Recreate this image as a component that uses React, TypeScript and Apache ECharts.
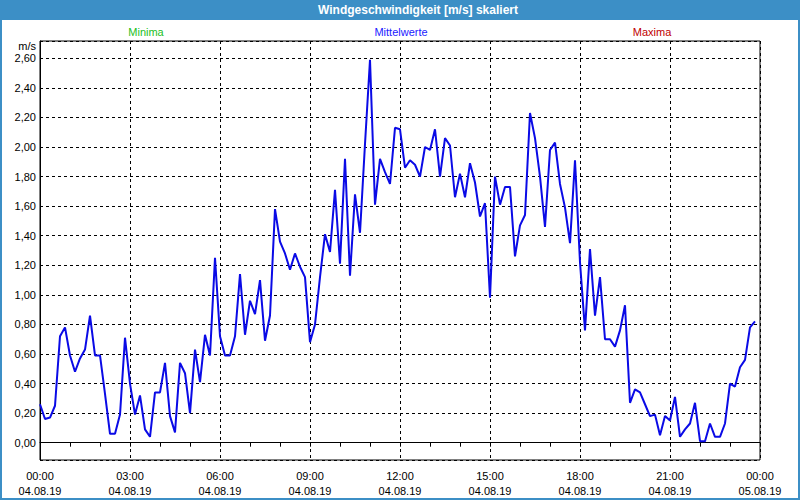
import { useEffect, useRef } from 'react';
import * as echarts from 'echarts';

const chartTitle = 'Windgeschwindigkeit [m/s] skaliert';
const legendLabels = ['Minima', 'Mittelwerte', 'Maxima'];
const legendColors = ['#22c022', '#1a1aff', '#c00000'];
const yUnit = 'm/s';
const xTickTimes = ['00:00', '03:00', '06:00', '09:00', '12:00', '15:00', '18:00', '21:00', '00:00'];
const xTickDates = ['04.08.19', '04.08.19', '04.08.19', '04.08.19', '04.08.19', '04.08.19', '04.08.19', '04.08.19', '05.08.19'];
const stepMinutes = 10;

// Mittelwerte, one value every 10 minutes starting 04.08.19 00:00
const windValues = [
  0.26, 0.16, 0.17, 0.25, 0.72, 0.78, 0.59, 0.48, 0.57, 0.63, 0.86, 0.59,
  0.59, 0.33, 0.06, 0.06, 0.19, 0.71, 0.40, 0.19, 0.32, 0.09, 0.04, 0.34,
  0.34, 0.54, 0.18, 0.07, 0.54, 0.47, 0.20, 0.63, 0.41, 0.73, 0.59, 1.25,
  0.72, 0.59, 0.59, 0.72, 1.14, 0.73, 0.96, 0.87, 1.10, 0.69, 0.86, 1.58,
  1.36, 1.28, 1.17, 1.28, 1.19, 1.12, 0.68, 0.80, 1.12, 1.41, 1.29, 1.71,
  1.21, 1.92, 1.13, 1.68, 1.42, 2.02, 2.59, 1.61, 1.92, 1.83, 1.75, 2.13,
  2.12, 1.86, 1.91, 1.88, 1.80, 2.00, 1.98, 2.12, 1.80, 2.06, 2.01, 1.66,
  1.82, 1.66, 1.89, 1.76, 1.53, 1.62, 0.98, 1.80, 1.61, 1.73, 1.73, 1.26,
  1.47, 1.54, 2.23, 2.06, 1.80, 1.46, 1.98, 2.03, 1.75, 1.59, 1.35, 1.91,
  1.22, 0.76, 1.31, 0.86, 1.12, 0.70, 0.70, 0.65, 0.76, 0.93, 0.27, 0.36,
  0.34, 0.26, 0.18, 0.19, 0.05, 0.18, 0.15, 0.31, 0.04, 0.09, 0.13, 0.27,
  0.01, 0.01, 0.13, 0.04, 0.04, 0.13, 0.40, 0.38, 0.51, 0.56, 0.78, 0.82,
];

const FONT = 'Liberation Sans';

export default function App() {
  const ref = useRef<HTMLDivElement>(null);
  useEffect(() => {
    document.body.style.margin = '0';
    const chart = echarts.init(ref.current!, null, { renderer: 'svg' });
    const data = windValues.map((v, i) => [(i * stepMinutes) / 60, v]);
    chart.setOption({
      animation: false,
      backgroundColor: '#ffffff',
      textStyle: { fontFamily: FONT },
      graphic: [
        { type: 'rect', z: 0, shape: { x: 0, y: 0, width: 800, height: 20 }, style: { fill: '#3c8fc6' } },
        { type: 'rect', z: 0, shape: { x: 1, y: 1, width: 798, height: 498 }, style: { fill: 'none', stroke: '#3c8fc6', lineWidth: 2 } },
        { type: 'text', z: 10, x: 418, y: 10, style: { text: chartTitle, fill: '#ffffff', font: `bold 12px "${FONT}"`, textAlign: 'center', textVerticalAlign: 'middle' } },
        { type: 'text', z: 10, x: 146, y: 32, style: { text: legendLabels[0], fill: legendColors[0], font: `11px "${FONT}"`, textAlign: 'center', textVerticalAlign: 'middle' } },
        { type: 'text', z: 10, x: 401, y: 32, style: { text: legendLabels[1], fill: legendColors[1], font: `11px "${FONT}"`, textAlign: 'center', textVerticalAlign: 'middle' } },
        { type: 'text', z: 10, x: 652, y: 32, style: { text: legendLabels[2], fill: legendColors[2], font: `11px "${FONT}"`, textAlign: 'center', textVerticalAlign: 'middle' } },
        { type: 'text', z: 10, x: 36, y: 46, style: { text: yUnit, fill: '#000', font: `11px "${FONT}"`, textAlign: 'right', textVerticalAlign: 'middle' } },
      ],
      grid: {
        left: 40, top: 41, width: 720, height: 419,
        show: true, borderColor: '#000', borderWidth: 1, backgroundColor: 'transparent',
      },
      xAxis: {
        type: 'value', min: 0, max: 24, interval: 3,
        axisLine: { show: true, lineStyle: { color: '#000', width: 1 } },
        axisTick: { show: true, length: 4, lineStyle: { color: '#000' } },
        minorTick: { show: true, splitNumber: 3, length: 4, lineStyle: { color: '#000' } },
        splitLine: { show: true, lineStyle: { color: '#000', type: [3, 3], width: 1 } },
        axisLabel: {
          color: '#000', fontSize: 11, fontFamily: FONT, lineHeight: 15, margin: 8,
          formatter: (v: number) => {
            const k = Math.round(v / 3);
            return `${xTickTimes[k]}\n${xTickDates[k]}`;
          },
        },
      },
      yAxis: {
        type: 'value', min: -0.117, max: 2.717, splitNumber: 14, minInterval: 0.2, maxInterval: 0.2,
        axisLine: { show: true, lineStyle: { color: '#000', width: 1 } },
        axisTick: { show: false },
        splitLine: { show: true, lineStyle: { color: '#000', type: [3, 3], width: 1 } },
        axisLabel: {
          color: '#000', fontSize: 11, fontFamily: FONT, margin: 4,
          formatter: (v: number) => {
            const r = Math.round(v / 0.2);
            if (Math.abs(v - r * 0.2) > 1e-6) return '';
            return (r * 0.2).toFixed(2).replace('.', ',');
          },
        },
      },
      series: [
        {
          name: legendLabels[1], type: 'line', data, showSymbol: false, symbol: 'none',
          lineStyle: { color: '#0a0ae6', width: 2 }, z: 5,
        },
      ],
    });
    return () => chart.dispose();
  }, []);
  return <div ref={ref} style={{ width: 800, height: 500 }} />;
}
